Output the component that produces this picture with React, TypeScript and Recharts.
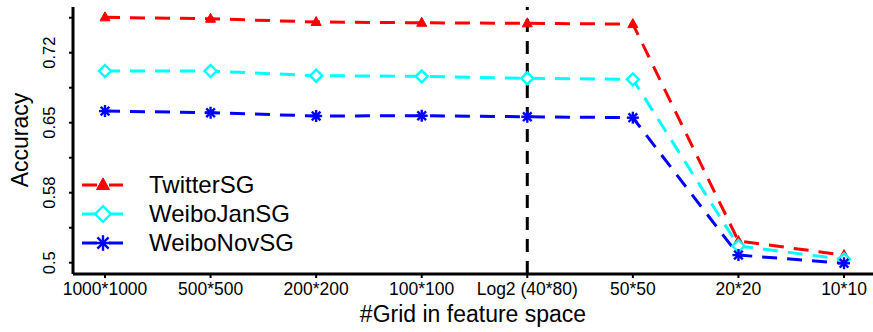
import { Line, LineChart, ReferenceLine, XAxis, YAxis } from "recharts";

const grids = ["1000*1000", "500*500", "200*200", "100*100", "Log2 (40*80)", "50*50", "20*20", "10*10"];
const twitterSG = [0.7629, 0.7614, 0.7579, 0.7571, 0.7565, 0.7557, 0.5232, 0.5082];
const weiboJanSG = [0.7054, 0.7054, 0.7004, 0.6997, 0.6976, 0.6965, 0.5179, 0.5036];
const weiboNovSG = [0.6625, 0.6607, 0.6572, 0.6575, 0.6564, 0.6554, 0.5082, 0.4994];
const yTicks = [0.5, 0.5375, 0.575, 0.6125, 0.65, 0.6875, 0.725, 0.7625];
const yTickLabels = ["0.5", "", "0.58", "", "0.65", "", "0.72", ""];

const data = grids.map((g, i) => ({
  grid: g,
  twitter: twitterSG[i],
  jan: weiboJanSG[i],
  nov: weiboNovSG[i],
}));

const FONT = "'Liberation Sans', Arial, sans-serif";
const RED = "#ff0000";
const CYAN = "#00ffff";
const BLUE = "#0000ff";

type Kind = "tri" | "dia" | "star";

const series: { key: string; name: string; color: string; kind: Kind }[] = [
  { key: "twitter", name: "TwitterSG", color: RED, kind: "tri" },
  { key: "jan", name: "WeiboJanSG", color: CYAN, kind: "dia" },
  { key: "nov", name: "WeiboNovSG", color: BLUE, kind: "star" },
];

function Marker({ cx, cy, kind, color, s = 1 }: { cx: number; cy: number; kind: Kind; color: string; s?: number }) {
  if (kind === "tri") {
    return (
      <polygon
        points={`${cx},${cy - 5.5 * s} ${cx - 5 * s},${cy + 3.5 * s} ${cx + 5 * s},${cy + 3.5 * s}`}
        fill={color}
        stroke={color}
        strokeWidth={1}
      />
    );
  }
  if (kind === "dia") {
    const r = 6 * s;
    return (
      <polygon
        points={`${cx},${cy - r} ${cx + r},${cy} ${cx},${cy + r} ${cx - r},${cy}`}
        fill="#fff"
        stroke={color}
        strokeWidth={2.4}
      />
    );
  }
  const r = 6 * s;
  const d = r * 0.72;
  return (
    <g stroke={color} strokeWidth={2.4}>
      <line x1={cx - r} y1={cy} x2={cx + r} y2={cy} />
      <line x1={cx} y1={cy - r} x2={cx} y2={cy + r} />
      <line x1={cx - d} y1={cy - d} x2={cx + d} y2={cy + d} />
      <line x1={cx - d} y1={cy + d} x2={cx + d} y2={cy - d} />
    </g>
  );
}

function YTick(props: any) {
  const { x, y, index } = props;
  const label = yTickLabels[index];
  if (!label) return null;
  return (
    <text
      transform={`translate(${x}, ${y}) rotate(-90)`}
      textAnchor="middle"
      fontSize={16.5}
      fontFamily={FONT}
      fill="#000"
    >
      {label}
    </text>
  );
}

function XTick(props: any) {
  const { x, y, payload } = props;
  return (
    <text x={x} y={y + 11.5} textAnchor="middle" fontSize={17.5} fontFamily={FONT} fill="#000">
      {payload.value}
    </text>
  );
}

function LegendBox() {
  return (
    <svg width={320} height={90} style={{ display: "block" }}>
      {series.map((s, i) => {
        const cy = 17 + i * 29;
        return (
          <g key={s.key}>
            <line x1={12} y1={cy} x2={53} y2={cy} stroke={s.color} strokeWidth={3} strokeDasharray="15 12" />
            <Marker cx={33} cy={cy} kind={s.kind} color={s.color} s={1.3} />
            <text x={79} y={cy + 8} fontSize={24} fontFamily={FONT} fill="#000">
              {s.name}
            </text>
          </g>
        );
      })}
    </svg>
  );
}

export default function App() {
  return (
    <div style={{ position: "absolute", left: 0, top: 0, width: 873, height: 332, background: "#fff" }}>
      <LineChart width={873} height={332} data={data} margin={{ top: 7, right: 0, bottom: 0, left: 0 }}>
        <XAxis
          dataKey="grid"
          padding={{ left: 32, right: 29 }}
          height={58}
          tickSize={4}
          tickMargin={5}
          axisLine={{ stroke: "#000", strokeWidth: 3 }}
          tickLine={{ stroke: "#000", strokeWidth: 2 }}
          tick={<XTick />}
          interval={0}
          label={{ value: "#Grid in feature space", position: "insideBottom", offset: 10, fontSize: 23, fill: "#000", fontFamily: FONT }}
        />
        <YAxis
          width={73}
          domain={[0.4879, 0.774]}
          ticks={yTicks}
          allowDataOverflow
          tickSize={4}
          tickMargin={14}
          axisLine={{ stroke: "#000", strokeWidth: 3 }}
          tickLine={{ stroke: "#000", strokeWidth: 2 }}
          tick={<YTick />}
          label={{
            content: () => (
              <text
                transform="translate(28, 140) rotate(-90)"
                textAnchor="middle"
                fontSize={23}
                fontFamily={FONT}
                fill="#000"
              >
                Accuracy
              </text>
            ),
          }}
        />
        <ReferenceLine x="Log2 (40*80)" stroke="#000" strokeWidth={3} strokeDasharray="13 9" />
        {series.map((s) => (
          <Line
            key={s.key}
            type="linear"
            dataKey={s.key}
            name={s.name}
            stroke={s.color}
            strokeWidth={3}
            strokeDasharray="15 10"
            isAnimationActive={false}
            dot={(p: any) => <Marker key={`${s.key}-${p.index}`} cx={p.cx} cy={p.cy} kind={s.kind} color={s.color} />}
            activeDot={false}
          />
        ))}
      </LineChart>
      <div style={{ position: "absolute", left: 70, top: 168 }}>
        <LegendBox />
      </div>
    </div>
  );
}
